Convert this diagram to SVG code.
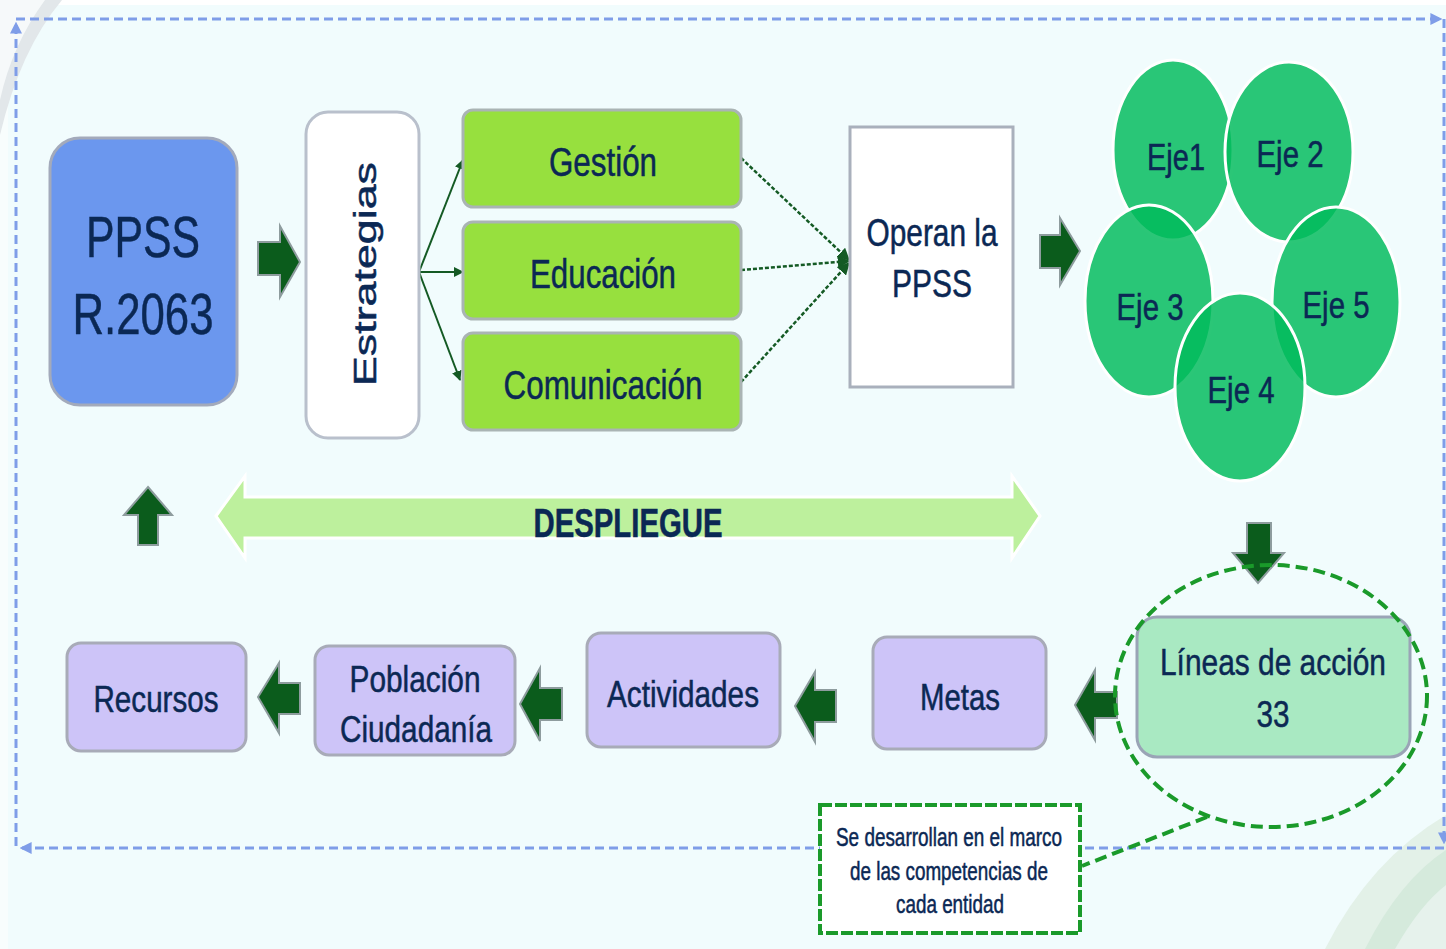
<svg xmlns="http://www.w3.org/2000/svg" width="1446" height="949" viewBox="0 0 1446 949">
<style>
.t{font-family:"Liberation Sans",Arial,sans-serif;fill:#0b2854;stroke:#0b2854;stroke-width:0.5;text-anchor:middle}
.blk{fill:#0b5c1c;stroke:#8e9c9e;stroke-width:2;stroke-linejoin:miter}
.green{fill:#97e03e;stroke:#aab4b4;stroke-width:3}
.purple{fill:#cdc4f8;stroke:#a8abb8;stroke-width:3}
.eje{fill:#00ba5c;fill-opacity:0.83;stroke:#ffffff;stroke-width:3}
.bord{stroke:#7f9de8;stroke-width:3;stroke-dasharray:9 5;fill:none}
.conn{stroke:#145a24;stroke-width:2;fill:none}
.dot{stroke:#145a24;stroke-width:2.5;stroke-dasharray:4 2;fill:none}
.gd{stroke:#1a9a2a;stroke-width:4;stroke-dasharray:12 6;fill:none}
</style>
<defs>
<marker id="ah" viewBox="0 0 10 10" refX="9" refY="5" markerWidth="5" markerHeight="5" orient="auto"><path d="M0,0 L10,5 L0,10 Z" fill="#145a24"/></marker>
<marker id="bh" viewBox="0 0 10 10" refX="8" refY="5" markerWidth="4" markerHeight="4" orient="auto"><path d="M0,0 L10,5 L0,10 Z" fill="#7f9de8"/></marker>
</defs>
<!-- background -->
<rect x="0" y="0" width="1446" height="949" fill="#f1fcfd"/>
<rect x="0" y="0" width="1446" height="5" fill="#ffffff"/>
<rect x="0" y="0" width="8" height="949" fill="#f8fdfd"/>
<path d="M0,0 L62,0 Q20,50 0,135 Z" fill="#e2e7ea"/>
<path d="M0,0 L45,0 Q12,45 0,100 Z" fill="#f6f9fa"/>
<path d="M1325,949 Q1370,860 1446,815 L1446,949 Z" fill="#e3f1e8"/>
<path d="M1365,949 Q1400,880 1446,850 L1446,949 Z" fill="#d5eadc"/>
<path d="M1395,949 Q1420,905 1446,885 L1446,949 Z" fill="#e6f2ec"/>

<!-- dashed blue loop -->
<g id="loop">
<line class="bord" x1="16" y1="846" x2="16" y2="24" marker-end="url(#bh)"/>
<line class="bord" x1="16" y1="19" x2="1440" y2="19" marker-end="url(#bh)"/>
<line class="bord" x1="1444" y1="19" x2="1444" y2="842" marker-end="url(#bh)"/>
<line class="bord" x1="1444" y1="848" x2="22" y2="848" marker-end="url(#bh)"/>
</g>

<!-- connectors -->
<g id="connectors">
<line class="conn" x1="419" y1="272" x2="463" y2="160" marker-end="url(#ah)"/>
<line class="conn" x1="419" y1="272" x2="463" y2="272" marker-end="url(#ah)"/>
<line class="conn" x1="419" y1="272" x2="460" y2="380" marker-end="url(#ah)"/>
<line class="dot" x1="741" y1="158" x2="849" y2="260" marker-end="url(#ah)"/>
<line class="dot" x1="741" y1="270" x2="849" y2="261" marker-end="url(#ah)"/>
<line class="dot" x1="741" y1="382" x2="849" y2="263" marker-end="url(#ah)"/>
<polygon class="blk" points="258,242 280,242 280,226 300,262 280,297 280,275 258,275"/>
<polygon class="blk" points="1040,235 1060,235 1060,218 1080,251 1060,285 1060,268 1040,268"/>
<polygon class="blk" points="148,487 172,515 158,515 158,545 138,545 138,515 124,515"/>
<polygon class="blk" points="1247,523 1271,523 1271,553 1284,553 1258,583 1233,553 1247,553"/>
<polygon class="blk" points="1075,705 1095,670 1095,692 1117,692 1117,718 1095,718 1095,740"/>
<polygon class="blk" points="795,706 815,672 815,690 836,690 836,722 815,722 815,742"/>
<polygon class="blk" points="520,704 540,668 540,688 562,688 562,720 540,720 540,741"/>
<polygon class="blk" points="258,697 279,663 279,683 300,683 300,714 279,714 279,733"/>
<line class="gd" x1="1207" y1="817" x2="1082" y2="866"/>
</g>

<g id="despliegue">
<polygon points="216,516 245,476 245,497 1012,497 1012,476 1040,516 1012,558 1012,538 245,538 245,558" fill="#bdf09d" stroke="#ffffff" stroke-width="3"/>
<text class="t" x="628" y="537" font-size="40" font-weight="bold" textLength="189" lengthAdjust="spacingAndGlyphs">DESPLIEGUE</text>
</g>

<g id="ppss">
<rect x="50" y="138" width="187" height="267" rx="30" fill="#6b97ee" stroke="#a3aabb" stroke-width="3"/>
<text class="t" x="143" y="257" font-size="58" textLength="114" lengthAdjust="spacingAndGlyphs">PPSS</text>
<text class="t" x="143" y="334" font-size="58" textLength="141" lengthAdjust="spacingAndGlyphs">R.2063</text>
</g>

<g id="estrategias">
<rect x="306" y="112" width="113" height="326" rx="22" fill="#ffffff" stroke="#b9c0cc" stroke-width="3"/>
<text class="t" transform="translate(376,274) rotate(-90)" x="0" y="0" font-size="31" stroke-width="0" textLength="224" lengthAdjust="spacingAndGlyphs">Estrategias</text>
</g>

<g id="gestion">
<rect class="green" x="463" y="110" width="278" height="97" rx="10"/>
<text class="t" x="603" y="176" font-size="40" textLength="108" lengthAdjust="spacingAndGlyphs">Gestión</text>
</g>
<g id="educacion">
<rect class="green" x="463" y="222" width="278" height="97" rx="10"/>
<text class="t" x="603" y="288" font-size="40" textLength="146" lengthAdjust="spacingAndGlyphs">Educación</text>
</g>
<g id="comunicacion">
<rect class="green" x="463" y="333" width="278" height="97" rx="10"/>
<text class="t" x="603" y="399" font-size="40" textLength="199" lengthAdjust="spacingAndGlyphs">Comunicación</text>
</g>

<g id="operan">
<rect x="850" y="127" width="163" height="260" fill="#ffffff" stroke="#a9b0bc" stroke-width="3"/>
<text class="t" x="932" y="246" font-size="38" textLength="131" lengthAdjust="spacingAndGlyphs">Operan la</text>
<text class="t" x="932" y="297" font-size="38" textLength="80" lengthAdjust="spacingAndGlyphs">PPSS</text>
</g>

<g id="ejes">
<g id="eje1"><ellipse class="eje" cx="1173" cy="150" rx="60" ry="90"/></g>
<g id="eje2"><ellipse class="eje" cx="1289" cy="152" rx="64" ry="90"/></g>
<g id="eje3"><ellipse class="eje" cx="1149" cy="301" rx="64" ry="96"/></g>
<g id="eje5"><ellipse class="eje" cx="1336" cy="302" rx="64" ry="95"/></g>
<g id="eje4"><ellipse class="eje" cx="1240" cy="387" rx="65" ry="94"/></g>
<text class="t" x="1176" y="170" font-size="37" textLength="58" lengthAdjust="spacingAndGlyphs">Eje1</text>
<text class="t" x="1290" y="167" font-size="37" textLength="67" lengthAdjust="spacingAndGlyphs">Eje 2</text>
<text class="t" x="1150" y="320" font-size="37" textLength="67" lengthAdjust="spacingAndGlyphs">Eje 3</text>
<text class="t" x="1336" y="318" font-size="37" textLength="67" lengthAdjust="spacingAndGlyphs">Eje 5</text>
<text class="t" x="1241" y="403" font-size="37" textLength="67" lengthAdjust="spacingAndGlyphs">Eje 4</text>
</g>

<g id="lineas">
<rect x="1137" y="617" width="273" height="140" rx="20" fill="#a9e9c2" stroke="#9aa4b6" stroke-width="3"/>
<ellipse class="gd" cx="1271" cy="696" rx="156" ry="131"/>
<text class="t" x="1273" y="675" font-size="37" textLength="226" lengthAdjust="spacingAndGlyphs">Líneas de acción</text>
<text class="t" x="1273" y="727" font-size="37" textLength="33" lengthAdjust="spacingAndGlyphs">33</text>
</g>

<g id="metas">
<rect class="purple" x="873" y="637" width="173" height="112" rx="14"/>
<text class="t" x="960" y="710" font-size="36" textLength="80" lengthAdjust="spacingAndGlyphs">Metas</text>
</g>
<g id="actividades">
<rect class="purple" x="587" y="633" width="193" height="114" rx="14"/>
<text class="t" x="683" y="707" font-size="36" textLength="152" lengthAdjust="spacingAndGlyphs">Actividades</text>
</g>
<g id="poblacion">
<rect class="purple" x="315" y="646" width="200" height="109" rx="14"/>
<text class="t" x="415" y="692" font-size="36" textLength="131" lengthAdjust="spacingAndGlyphs">Población</text>
<text class="t" x="416" y="742" font-size="36" textLength="152" lengthAdjust="spacingAndGlyphs">Ciudadanía</text>
</g>
<g id="recursos">
<rect class="purple" x="67" y="643" width="179" height="108" rx="14"/>
<text class="t" x="156" y="712" font-size="36" textLength="125" lengthAdjust="spacingAndGlyphs">Recursos</text>
</g>

<g id="callout">
<rect x="820" y="805" width="260" height="128" fill="#ffffff" stroke="#1a9a2a" stroke-width="4" stroke-dasharray="12 3"/>
<text class="t" x="949" y="846" font-size="25" stroke-width="0.3" textLength="226" lengthAdjust="spacingAndGlyphs">Se desarrollan en el marco</text>
<text class="t" x="949" y="880" font-size="25" stroke-width="0.3" textLength="198" lengthAdjust="spacingAndGlyphs">de las competencias de</text>
<text class="t" x="950" y="913" font-size="25" stroke-width="0.3" textLength="108" lengthAdjust="spacingAndGlyphs">cada entidad</text>
</g>
</svg>
